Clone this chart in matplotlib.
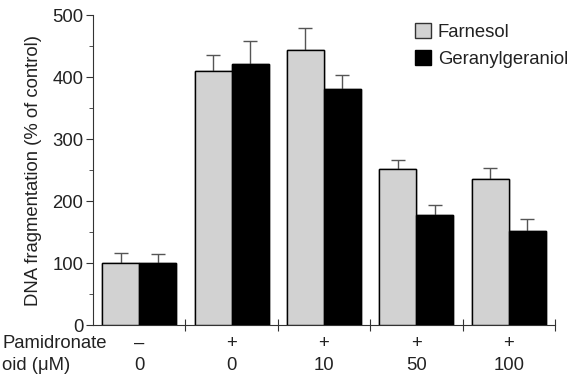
import numpy as np
import matplotlib.pyplot as plt
from matplotlib.patches import Patch
from matplotlib.ticker import MultipleLocator
from matplotlib import transforms

plt.rcParams['font.family'] = ['Liberation Sans', 'DejaVu Sans']

# data
pamidronate = ['\u2013', '+', '+', '+', '+']
doses = ['0', '0', '10', '50', '100']
farnesol = [100, 410, 443, 251, 235]
farnesol_err = [16, 25, 37, 16, 19]
gg = [100, 421, 381, 178, 152]
gg_err = [14, 38, 22, 16, 19]

fs = 13.3
fig = plt.figure(figsize=(5.77, 3.78), dpi=100)
ax = fig.add_axes([0.161, 0.140, 0.801, 0.820])

x = np.arange(len(doses))
w = 0.4
ekw = dict(ecolor='#555555', elinewidth=1, capsize=4.8, capthick=1)
ax.bar(x - w/2, farnesol, w, color='#d2d2d2', edgecolor='black', linewidth=1,
       yerr=farnesol_err, error_kw=ekw)
ax.bar(x + w/2, gg, w, color='black', edgecolor='black', linewidth=1,
       yerr=gg_err, error_kw=ekw)
# redraw bars on top so only the upper half of each error bar shows
ax.bar(x - w/2, farnesol, w, color='#d2d2d2', edgecolor='black', linewidth=1, zorder=3)
ax.bar(x + w/2, gg, w, color='black', edgecolor='black', linewidth=1, zorder=3)

ax.set_xlim(-0.5, 4.5)
ax.set_ylim(0, 500)
ax.spines['top'].set_visible(False)
ax.spines['right'].set_visible(False)
ax.spines['left'].set_color('#333333')
ax.spines['bottom'].set_color('#333333')

ax.set_xticks(np.arange(0.5, 5, 1))
ax.set_xticklabels([])
ax.tick_params(axis='x', direction='inout', length=8, color='#333333')
ax.yaxis.set_major_locator(MultipleLocator(100))
ax.yaxis.set_minor_locator(MultipleLocator(50))
ax.tick_params(axis='y', which='major', length=5, labelsize=fs, color='#333333', labelcolor='#222222', pad=2)
ax.tick_params(axis='y', which='minor', length=3, color='#333333')
ax.set_ylabel('DNA fragmentation (% of control)', fontsize=fs, color='#222222', labelpad=7)

trans = transforms.blended_transform_factory(ax.transData, fig.transFigure)
for i in range(len(doses)):
    ax.text(x[i], 1 - 343/378, pamidronate[i], transform=trans, ha='center', va='center', fontsize=fs, color='#222222')
    ax.text(x[i], 1 - 365/378, doses[i], transform=trans, ha='center', va='center', fontsize=fs, color='#222222')
fig.text(0.004, 1 - 343/378, 'Pamidronate', ha='left', va='center', fontsize=fs, color='#222222')
fig.text(0.004, 1 - 365/378, 'oid (\u03bcM)', ha='left', va='center', fontsize=fs, color='#222222')

handles = [Patch(facecolor='#d2d2d2', edgecolor='#333333', label='Farnesol'),
           Patch(facecolor='black', edgecolor='black', label='Geranylgeraniol')]
ax.legend(handles=handles, loc='upper left', bbox_to_anchor=(0.68, 1.0), frameon=False,
          fontsize=fs, handlelength=0.9, handleheight=0.9, handletextpad=0.35, labelspacing=0.5,
          borderaxespad=0, labelcolor='#222222')

fig.savefig('out.png', dpi=100)
